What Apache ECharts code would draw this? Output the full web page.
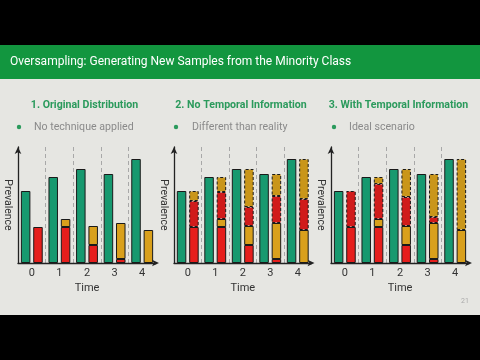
<!DOCTYPE html>
<html>
<head>
<meta charset="utf-8">
<script src="https://cdn.jsdelivr.net/npm/echarts@6/dist/echarts.min.js"></script>
<style>html,body{margin:0;padding:0;background:#000;}#c{width:480px;height:360px;}</style>
</head>
<body>
<div id="c"></div>
<script>
// ---- data ----
const categories = ['0', '1', '2', '3', '4'];
const majority = [72, 86, 94, 89, 104];          // green
const minorityRed = [36, 36, 18, 4, 0];          // original red
const minorityYellow = [0, 8, 19, 36, 33];       // original yellow
const synthRedNoTemporal = [26, 27, 19, 27, 31];
const synthYellowNoTemporal = [10, 15, 38, 22, 40];
const synthRedTemporal = [36, 35, 29, 6, 0];
const synthYellowTemporal = [0, 7, 28, 43, 71];
const mainTitle = 'Oversampling: Generating New Samples from the Minority Class';
const panelTitles = ['1. Original Distribution', '2. No Temporal Information', '3. With Temporal Information'];
const panelNotes = ['No technique applied', 'Different than reality', 'Ideal scenario'];
const pageNumber = '21';

// ---- styles ----
const FONT = 'Roboto';
const C_GREEN = '#17996f', C_RED = '#e61e1c', C_YEL = '#d9a01c';
const C_RED_S = '#d01b1b', C_YEL_S = '#c9961a';
const grids = [
  {left: 18, top: 147, width: 138, height: 116},
  {left: 174, top: 147, width: 137.5, height: 116},
  {left: 331, top: 147, width: 138, height: 116}
];
const titleX = [84.5, 241, 398.5];
const noteX = [34, 192, 349];
const bulletX = [19, 176, 334];

const nz = arr => arr.map(v => (v === 0 ? null : v));

function solid(color) {
  return {color: color, borderColor: '#1a1a1a', borderWidth: 1};
}
function dashed(color) {
  return {color: color, borderColor: '#1a1a1a', borderWidth: 1, borderType: [3, 2]};
}

const xAxes = [], yAxes = [], series = [];
grids.forEach((g, i) => {
  xAxes.push({
    type: 'category', gridIndex: i, data: categories,
    name: 'Time', nameLocation: 'middle', nameGap: 20,
    nameTextStyle: {fontFamily: FONT, fontSize: 11, color: '#333'},
    axisLine: {lineStyle: {color: '#222', width: 1.3}, symbol: ['none', 'arrow'], symbolSize: [5, 7], symbolOffset: [0, 3]},
    axisTick: {alignWithLabel: true, length: 3, lineStyle: {color: '#222', width: 1.3}},
    axisLabel: {fontFamily: FONT, fontSize: 11, color: '#333', margin: 5},
    splitLine: {show: true, interval: 0, showMinLine: false, showMaxLine: false,
      lineStyle: {color: '#a8a8a8', type: [4, 3], width: 1}}
  });
  yAxes.push({
    type: 'value', gridIndex: i, min: 0, max: 116,
    name: 'Prevalence', nameLocation: 'middle', nameRotate: -90, nameGap: 5,
    nameTextStyle: {fontFamily: FONT, fontSize: 10.5, color: '#333'},
    axisLine: {show: true, lineStyle: {color: '#222', width: 1.3}, symbol: ['none', 'arrow'], symbolSize: [5, 7]},
    axisTick: {show: false}, axisLabel: {show: false}, splitLine: {show: false}
  });
  series.push({
    type: 'bar', xAxisIndex: i, yAxisIndex: i, stack: 'g' + i, data: nz(majority),
    barWidth: 9.5, barGap: '30%', itemStyle: solid(C_GREEN), silent: true
  });
  const layers = [
    [minorityRed, solid(C_RED)],
    [minorityYellow, solid(C_YEL)]
  ];
  if (i === 1) {
    layers.push([synthRedNoTemporal, dashed(C_RED_S)], [synthYellowNoTemporal, dashed(C_YEL_S)]);
  } else if (i === 2) {
    layers.push([synthRedTemporal, dashed(C_RED_S)], [synthYellowTemporal, dashed(C_YEL_S)]);
  }
  layers.forEach(([d, st]) => {
    series.push({
      type: 'bar', xAxisIndex: i, yAxisIndex: i, stack: 'm' + i, data: nz(d),
      barWidth: 9.5, barGap: '30%', itemStyle: st, silent: true
    });
  });
});

const graphics = [
  {type: 'rect', shape: {x: 0, y: 0, width: 480, height: 45}, style: {fill: '#000'}},
  {type: 'rect', shape: {x: 0, y: 45, width: 480, height: 34}, style: {fill: '#12963f'}},
  {type: 'rect', shape: {x: 0, y: 315, width: 480, height: 45}, style: {fill: '#000'}},
  {type: 'text', x: 10, y: 62, style: {text: mainTitle, fill: '#fff', font: '12px ' + FONT, textVerticalAlign: 'middle'}},
  {type: 'text', x: 465, y: 301, style: {text: pageNumber, fill: '#aaa', font: '7px ' + FONT, textAlign: 'center', textVerticalAlign: 'middle'}}
];
panelTitles.forEach((t, i) => {
  graphics.push({type: 'text', x: titleX[i], y: 105,
    style: {text: t, fill: '#2b9a5c', font: 'bold 10.6px ' + FONT, textAlign: 'center', textVerticalAlign: 'middle'}});
  graphics.push({type: 'circle', shape: {cx: bulletX[i], cy: 127, r: 2.2}, style: {fill: '#2b9a5c'}});
  graphics.push({type: 'text', x: noteX[i], y: 127,
    style: {text: panelNotes[i], fill: '#8a8a8a', font: '10.6px ' + FONT, textVerticalAlign: 'middle'}});
});

const chart = echarts.init(document.getElementById('c'), null, {renderer: 'canvas'});
chart.setOption({
  backgroundColor: '#e6e6e2',
  animation: false,
  grid: grids,
  xAxis: xAxes,
  yAxis: yAxes,
  series: series,
  graphic: graphics
});
</script>
</body>
</html>
